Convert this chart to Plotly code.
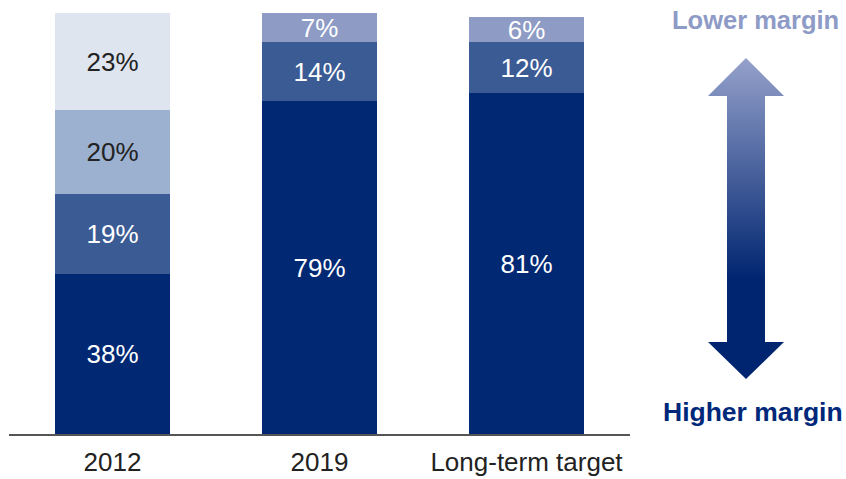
import plotly.graph_objects as go

# Portfolio mix by margin tier, share of total (%)
categories = ["2012", "2019", "Long-term target"]
tier_high = [38, 79, 81]        # highest-margin tier (bottom)
tier_mid = [19, 14, 12]
tier_low = [20, 7, 6]
tier_lowest = [23, None, None]  # lowest-margin tier (top, 2012 only)

W, H = 846, 479
FONT = "Liberation Sans, Arial, sans-serif"

NAVY = "#002873"
MID = "#3b5b94"
LIGHT = "#9cb0cf"
PALE = "#dfe5ef"
LAVENDER = "#8d9bc5"
DARK_TXT = "#222222"

fig = go.Figure()


def add_tier(values, colors, text_colors):
    fig.add_trace(go.Bar(
        x=categories,
        y=values,
        width=0.556,
        marker=dict(color=colors, line=dict(width=0)),
        text=[f"{v}%" if v is not None else "" for v in values],
        textposition="inside",
        insidetextanchor="middle",
        constraintext="none",
        textangle=0,
        textfont=dict(family=FONT, size=26, color=text_colors),
        hoverinfo="skip",
        showlegend=False,
        xaxis="x", yaxis="y",
    ))


add_tier(tier_high, [NAVY] * 3, ["white"] * 3)
add_tier(tier_mid, [MID] * 3, ["white"] * 3)
add_tier(tier_low, [LIGHT, LAVENDER, LAVENDER], [DARK_TXT, "white", "white"])
add_tier(tier_lowest, [PALE] * 3, [DARK_TXT] * 3)

# Double-headed gradient arrow, drawn in a pixel-space overlay (y measured from bottom)
arrow_px = [(746, 58), (784, 96), (765, 96), (765, 342), (784, 342), (746, 379),
            (708, 342), (727, 342), (727, 96), (708, 96), (746, 58)]
fig.add_trace(go.Scatter(
    x=[p[0] for p in arrow_px],
    y=[H - p[1] for p in arrow_px],
    mode="lines",
    line=dict(width=0, color="rgba(0,0,0,0)"),
    fill="toself",
    fillgradient=dict(
        type="vertical",
        colorscale=[[0.0, "#002570"], [0.31, "#002570"], [1.0, "#95a1cb"]],
    ),
    hoverinfo="skip",
    showlegend=False,
    xaxis="x2", yaxis="y2",
))

fig.add_annotation(x=755, y=H - 20, xref="x2", yref="y2", text="<b>Lower margin</b>",
                   showarrow=False, font=dict(family=FONT, size=25.5, color="#8e9bc6"))
fig.add_annotation(x=753, y=H - 412, xref="x2", yref="y2", text="<b>Higher margin</b>",
                   showarrow=False, font=dict(family=FONT, size=26.5, color="#00287a"))

fig.update_layout(
    width=W, height=H,
    margin=dict(l=0, r=0, t=0, b=0),
    barmode="stack",
    bargap=0,
    paper_bgcolor="white",
    plot_bgcolor="rgba(0,0,0,0)",
    xaxis=dict(
        domain=[9 / W, 630 / W],
        type="category",
        range=[-0.5, 2.5],
        showline=True, linecolor="#555555", linewidth=2,
        showgrid=False, zeroline=False,
        ticks="outside", ticklen=4, tickcolor="rgba(0,0,0,0)",
        tickfont=dict(family=FONT, size=26, color=DARK_TXT),
        anchor="y",
    ),
    yaxis=dict(
        domain=[(H - 434) / H, (H - 13) / H],
        range=[0, 100],
        visible=False,
        anchor="x",
    ),
    xaxis2=dict(domain=[0, 1], range=[0, W], visible=False, anchor="y2"),
    yaxis2=dict(domain=[0, 1], range=[0, H], visible=False, anchor="x2"),
)

fig.write_html("out.html")
